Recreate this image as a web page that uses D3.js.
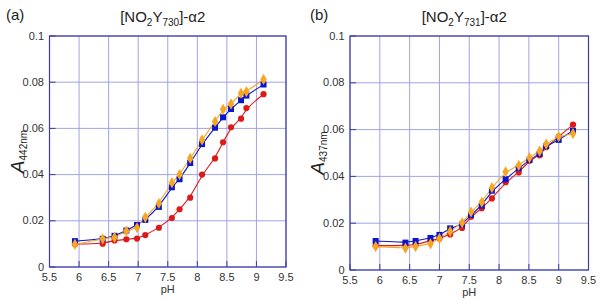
<!DOCTYPE html>
<html>
<head>
<meta charset="utf-8">
<script src="https://cdn.jsdelivr.net/npm/d3@7"></script>
<style>
  body { margin: 0; background: #fff; }
  svg { font-family: "Liberation Sans", Arial, sans-serif; }
</style>
</head>
<body>
<div id="chart"></div>
<script>
// panel (a): [NO2Y730]-a2, A442nm
const phA = [5.93, 6.4, 6.6, 6.8, 6.98, 7.12, 7.35, 7.57, 7.7, 7.88, 8.08, 8.3, 8.435, 8.57, 8.74, 8.83, 9.12];
const blueA = [0.0112, 0.0122, 0.0135, 0.0158, 0.0182, 0.0204, 0.026, 0.0345, 0.038, 0.045, 0.0532, 0.0603, 0.0648, 0.0684, 0.0722, 0.0742, 0.079];
const orangeA = [0.0098, 0.0122, 0.0128, 0.0155, 0.017, 0.0215, 0.0275, 0.0365, 0.04, 0.047, 0.055, 0.063, 0.0683, 0.0706, 0.0752, 0.0759, 0.0812];
const redA = [0.0099, 0.0101, 0.0115, 0.012, 0.0123, 0.0138, 0.017, 0.0212, 0.025, 0.030, 0.040, 0.047, 0.054, 0.0605, 0.0642, 0.0688, 0.0748];

// panel (b): [NO2Y731]-a2, A437nm
const phB = [5.93, 6.43, 6.6, 6.85, 7.0, 7.18, 7.38, 7.53, 7.71, 7.88, 8.11, 8.33, 8.51, 8.68, 8.79, 9.0, 9.24];
const blueB = [0.0124, 0.0117, 0.0124, 0.0137, 0.015, 0.0178, 0.0195, 0.0235, 0.0275, 0.0339, 0.0388, 0.0435, 0.047, 0.0496, 0.053, 0.0556, 0.0595];
const orangeB = [0.010, 0.0093, 0.010, 0.0112, 0.0135, 0.0165, 0.0202, 0.0248, 0.029, 0.0352, 0.042, 0.0447, 0.048, 0.0508, 0.0538, 0.057, 0.0583];
const redB = [0.0104, 0.0105, 0.0108, 0.0125, 0.0135, 0.0152, 0.018, 0.0228, 0.0264, 0.0306, 0.0375, 0.0417, 0.0467, 0.049, 0.0525, 0.057, 0.0621];

const xTicks = [5.5, 6, 6.5, 7, 7.5, 8, 8.5, 9, 9.5];
const yTicks = [0, 0.02, 0.04, 0.06, 0.08, 0.1];

const colBlue = "#0a16c8", colOrange = "#f6a624", colRed = "#dc1a1a";
const frameCol = "#3c3ca8", gridCol = "#a3a3e6";

const svg = d3.select("#chart").append("svg").attr("width", 600).attr("height", 300);

function panel(opt) {
  const x = d3.scaleLinear().domain([5.5, 9.5]).range([opt.left, opt.right]);
  const y = d3.scaleLinear().domain([0, 0.1]).range([opt.bottom, opt.top]);
  const g = svg.append("g");

  // grid
  g.selectAll(".gx").data(xTicks).enter().append("line")
    .attr("x1", d => x(d)).attr("x2", d => x(d)).attr("y1", opt.top).attr("y2", opt.bottom)
    .attr("stroke", gridCol).attr("stroke-width", 1);
  g.selectAll(".gy").data(yTicks).enter().append("line")
    .attr("y1", d => y(d)).attr("y2", d => y(d)).attr("x1", opt.left).attr("x2", opt.right)
    .attr("stroke", gridCol).attr("stroke-width", 1);

  // frame
  g.append("rect").attr("x", opt.left).attr("y", opt.top)
    .attr("width", opt.right - opt.left).attr("height", opt.bottom - opt.top)
    .attr("fill", "none").attr("stroke", frameCol).attr("stroke-width", 1.2);

  // inward ticks
  g.selectAll(".ty").data(yTicks).enter().append("line")
    .attr("x1", opt.left).attr("x2", opt.left + 6).attr("y1", d => y(d)).attr("y2", d => y(d))
    .attr("stroke", frameCol);
  g.selectAll(".tx").data(xTicks).enter().append("line")
    .attr("y1", opt.bottom).attr("y2", opt.bottom - 6).attr("x1", d => x(d)).attr("x2", d => x(d))
    .attr("stroke", frameCol);

  // tick labels
  g.selectAll(".ly").data(yTicks).enter().append("text")
    .attr("x", opt.left - 5.5).attr("y", d => y(d) + 3.5).attr("text-anchor", "end")
    .attr("font-size", 11).attr("fill", "#333").text(d => d === 0 ? "0" : d3.format("~g")(d));
  g.selectAll(".lx").data(xTicks).enter().append("text")
    .attr("x", d => x(d)).attr("y", opt.bottom + 14).attr("text-anchor", "middle")
    .attr("font-size", 11).attr("fill", "#333").text(d => d);

  g.append("text").attr("x", (opt.left + opt.right) / 2).attr("y", opt.bottom + 26)
    .attr("text-anchor", "middle").attr("font-size", 11).attr("fill", "#333").text("pH");

  // y label
  const yl = g.append("text").attr("transform", `translate(${opt.left - 26},${(opt.top + opt.bottom) / 2}) rotate(-90)`)
    .attr("text-anchor", "middle").attr("fill", "#222");
  yl.append("tspan").attr("font-size", 19).attr("font-style", "italic").text("A");
  yl.append("tspan").attr("font-size", 10).attr("dy", 3).text(opt.sub);

  // title
  const t = svg.append("text").attr("x", (opt.left + opt.right) / 2 - 5).attr("y", 22)
    .attr("text-anchor", "middle").attr("font-size", 15).attr("fill", "#222");
  t.append("tspan").text("[NO");
  t.append("tspan").attr("font-size", 10).attr("dy", 4).text("2");
  t.append("tspan").attr("dy", -4).text("Y");
  t.append("tspan").attr("font-size", 10).attr("dy", 4).text(opt.res);
  t.append("tspan").attr("dy", -4).text("]-\u03b12");

  svg.append("text").attr("x", opt.tagX).attr("y", 20).attr("font-size", 15).attr("fill", "#222").text(opt.tag);

  const line = d3.line().x(d => x(d[0])).y(d => y(d[1])).curve(d3.curveBasis);

  opt.series.forEach(s => {
    const pts = opt.ph.map((p, i) => [p, s.values[i]]);
    g.append("path").datum(pts).attr("d", line).attr("fill", "none")
      .attr("stroke", s.color).attr("stroke-width", 1.1);
  });

  opt.series.forEach(s => {
    const pts = opt.ph.map((p, i) => [p, s.values[i]]);
    const sym = d3.symbol().type(s.shape).size(s.size);
    g.selectAll(null).data(pts).enter().append("path")
      .attr("d", sym)
      .attr("transform", d => `translate(${x(d[0])},${y(d[1])})`)
      .attr("fill", s.color);
  });
}

panel({
  left: 49.5, right: 286, top: 36, bottom: 267, tag: "(a)", tagX: 6,
  sub: "442nm", res: "730", ph: phA,
  series: [
    { values: redA, color: colRed, shape: d3.symbolCircle, size: 30 },
    { values: blueA, color: colBlue, shape: d3.symbolSquare, size: 36 },
    { values: orangeA, color: colOrange, shape: d3.symbolDiamond, size: 36 }
  ]
});

panel({
  left: 350, right: 588.5, top: 36, bottom: 270, tag: "(b)", tagX: 310,
  sub: "437nm", res: "731", ph: phB,
  series: [
    { values: redB, color: colRed, shape: d3.symbolCircle, size: 30 },
    { values: blueB, color: colBlue, shape: d3.symbolSquare, size: 36 },
    { values: orangeB, color: colOrange, shape: d3.symbolDiamond, size: 36 }
  ]
});
</script>
</body>
</html>
